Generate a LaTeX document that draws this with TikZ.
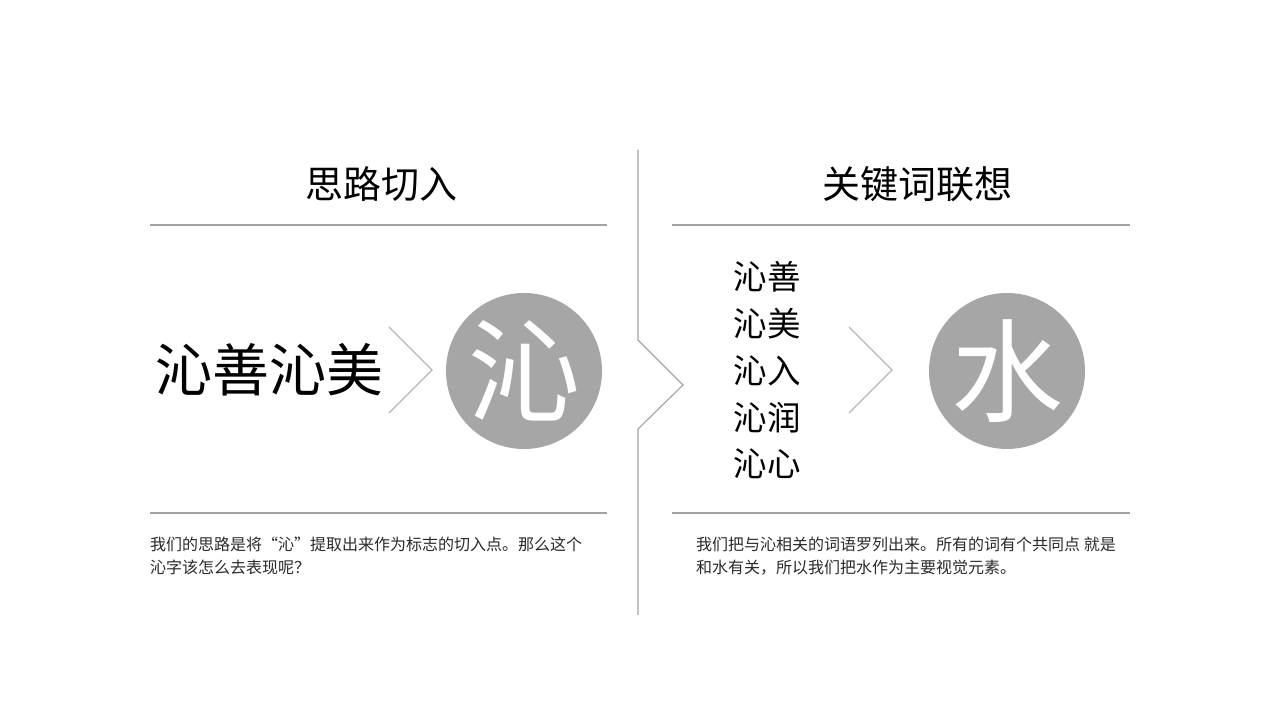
\documentclass[tikz,border=0pt]{standalone}
\usepackage{fontspec}
\setmainfont{Noto Sans CJK SC}
\usepackage{tikz}
\usetikzlibrary{positioning}

\definecolor{rulegray}{HTML}{A3A3A3}
\definecolor{discgray}{HTML}{A6A6A6}
\definecolor{inkgray}{HTML}{2A2A2A}

\newcommand{\fsz}[1]{\fontsize{#1}{#1}\selectfont}

\tikzset{
  rule/.style={draw=rulegray, line width=1.1pt},
  chev/.style={draw=rulegray!80, line width=1.3pt},
  heading/.style={font=\fsz{38}, text=black, inner sep=0},
  disc/.style={circle, fill=discgray, minimum size=156, inner sep=0,
    text=white, font=\fsz{112}},
  keyword/.style={font=\fsz{33.5}, text=black, inner sep=0},
  note/.style={font=\fontsize{16}{23}\selectfont, text=inkgray,
    align=left, anchor=west, inner sep=0}
}

\begin{document}
\begin{tikzpicture}[x=1pt, y=1pt]
  \useasboundingbox[fill=white] (0,0) rectangle (1280,720);

  % divider with the notch
  \draw[rule] (638,570) -- (638,380) -- (683,335) -- (638,291) -- (638,105);

  % left panel
  \node[heading] (titleL) at (381,536) {思路切入};
  \draw[rule] (150,495) -- (607,495);
  \draw[rule] (150,207) -- (607,207);
  \node[keyword, font=\fsz{57}] (phrase) at (269,350) {沁善沁美};
  \draw[chev] (389,393) -- (432,350) -- (389,307);
  \node[disc] (qin) at (524,349) {沁};
  \node[note] (noteL) at (150,164)
    {我们的思路是将“沁”提取出来作为标志的切入点。那么这个\\沁字该怎么去表现呢？};

  % right panel
  \node[heading] (titleR) at (917,536) {关键词联想};
  \draw[rule] (672,495) -- (1130,495);
  \draw[rule] (672,207) -- (1130,207);
  \foreach \w [count=\i] in {沁善,沁美,沁入,沁润,沁心}
    \node[keyword] (kw\i) at (767,490-46.8*\i) {\w};
  \draw[chev] (849,393) -- (892,350) -- (849,307);
  \node[disc] (shui) at (1007,349) {水};
  \node[note] (noteR) at (696,164)
    {我们把与沁相关的词语罗列出来。所有的词有个共同点 就是\\和水有关，所以我们把水作为主要视觉元素。};
\end{tikzpicture}
\end{document}
